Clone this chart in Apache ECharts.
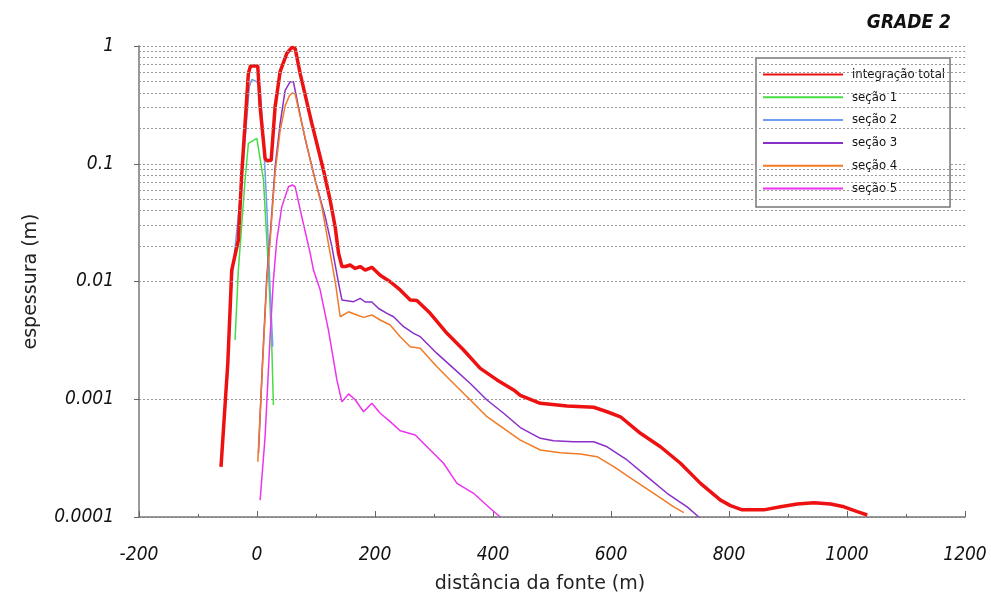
<!DOCTYPE html>
<html lang="pt">
<head>
    <meta charset="UTF-8"/>
    <title>grade 2</title>
    <script src="https://cdn.jsdelivr.net/npm/echarts@6.0.0/dist/echarts.min.js"></script>
    <style>
        html, body { margin: 0; padding: 0; background: #fff; }
    </style>
</head>
<body>
<div id="main" style="width: 991px;height:604px;"></div>

<script type="text/javascript">
    // distância (m) e espessura (m) de cada curva
    var totalX = [-61, -49.5, -42.8, -31.6, -25.8, -20.2, -14.6, -11, 1.3, 5.3, 13.7, 17, 24, 30.7, 39.2, 50.5, 59, 64.6, 73.1, 92.9, 112.6,
        124, 132.5, 138.2, 143.9, 150, 157.9, 166.4, 174.9, 183.4, 194.7, 208.8, 225.8, 242.7, 259.7, 271, 293.6, 322, 350.1, 378.4,
        406.8, 435, 446.3, 480.2, 525.5, 570.7, 593.3, 616, 649.9, 683.8, 717.7, 751.7, 785.6, 802.5, 822.4, 859, 887.4, 915.6,
        943.9, 972.2, 994.8, 1017.4, 1034.4];
    var totalY = [0.000267, 0.00202, 0.0125, 0.0225, 0.083, 0.22, 0.586, 0.676, 0.676, 0.305, 0.111, 0.106, 0.107, 0.305, 0.605, 0.867, 0.975, 0.955, 0.586, 0.22, 0.0885,
        0.049, 0.029, 0.0174, 0.0134, 0.0134, 0.0138, 0.0129, 0.0134, 0.0125, 0.0132, 0.0113, 0.00995, 0.00848, 0.00697, 0.0069, 0.00537, 0.00363, 0.00262, 0.00183,
        0.00146, 0.0012, 0.00108, 0.000924, 0.000877, 0.000855, 0.000783, 0.00071, 0.000514, 0.000395, 0.000286, 0.000193, 0.000139, 0.000125, 0.000115, 0.000115, 0.000122, 0.000129,
        0.000132, 0.000129, 0.000122, 0.000111, 0.000104];

    var sec1X = [-37.2, -31.6, -20.2, -14.6, -0.3, 2.5, 11, 16.6, 19.5, 25.1, 27.8];
    var sec1Y = [0.00318, 0.0125, 0.0728, 0.149, 0.164, 0.16, 0.0728, 0.0225, 0.0125, 0.00279, 0.000894];

    var sec2X = [-50, -43, -26, -13, -8.8, -0.3, 5.3, 11, 16.6, 22.2, 26.8];
    var sec2Y = [0.0015, 0.01, 0.07, 0.45, 0.52, 0.497, 0.45, 0.159, 0.043, 0.0085, 0.0028];

    var sec3X = [2.5, 9.2, 16.6, 22.2, 30.7, 39.2, 47.7, 56.1, 61.7, 70.2, 82.1, 98.6, 115.6, 126.9, 138.2, 143.9, 163.7, 174.9, 183.4, 194.7,
        206.1, 220.2, 231.5, 248.5, 265.4, 276.7, 305, 333.2, 361.5, 389.8, 418, 446.3, 480.2, 502.8, 536.7, 570.7, 593.3, 627.2, 661.1,
        695, 729, 748.8];
    var sec3Y = [0.000348, 0.002, 0.011, 0.024, 0.094, 0.22, 0.42, 0.497, 0.497, 0.305, 0.159, 0.073, 0.0355, 0.0198, 0.0097, 0.00697, 0.00674, 0.0072, 0.0067, 0.0067,
        0.0059, 0.00537, 0.00502, 0.00413, 0.00363, 0.0034, 0.00245, 0.00183, 0.00136, 0.000986, 0.00076, 0.000575, 0.000466, 0.000445, 0.000436, 0.000436, 0.000395, 0.000305, 0.00022,
        0.000159, 0.000122, 0.0001];

    var sec4X = [1.4, 9, 16.6, 22.2, 30.7, 39.2, 47.7, 55, 60.1, 64.6, 75.9, 92.9, 109.9, 128, 133, 141, 155.1, 169.3, 180.6, 194.7,
        208.8, 225.8, 242.7, 259.7, 276.7, 305, 333.2, 361.5, 389.8, 418, 446.3, 480.2, 514.1, 548.1, 576.4, 604.6, 638.5, 672.4,
        706.4, 723.3];
    var sec4Y = [0.000295, 0.0018, 0.01, 0.022, 0.085, 0.19, 0.31, 0.38, 0.4, 0.39, 0.22, 0.094, 0.043, 0.0134, 0.0097, 0.00502, 0.00553, 0.00519, 0.00496, 0.0052,
        0.00471, 0.00427, 0.0034, 0.00279, 0.00271, 0.00189, 0.00136, 0.000986, 0.000711, 0.000566, 0.00045, 0.000371, 0.000352, 0.000343, 0.000325, 0.000268, 0.000206, 0.000159,
        0.000122, 0.000109];

    var sec5X = [5.3, 13.7, 22.2, 27.8, 33.6, 42, 53.3, 60.1, 64.6, 75.9, 90.1, 95.7, 107, 121.1, 124, 135.4, 143.9, 155.1, 166.4, 180.6,
        194.7, 208.8, 225.8, 242.7, 268.2, 293.6, 316.2, 338.9, 367.1, 395.4, 412.4];
    var sec5Y = [0.000139, 0.00048, 0.0034, 0.0103, 0.0225, 0.043, 0.0638, 0.066, 0.064, 0.0355, 0.0174, 0.0125, 0.0085, 0.00387, 0.00318, 0.00146, 0.00095, 0.00111, 0.00099, 0.000783,
        0.000924, 0.00076, 0.000646, 0.00054, 0.000497, 0.000371, 0.000286, 0.000193, 0.000159, 0.000118, 0.0001];

    var seriesNames = ['integração total', 'seção 1', 'seção 2', 'seção 3', 'seção 4', 'seção 5'];

    // rótulos do eixo y (décadas) e linhas de grade secundárias
    var yTickValues = [1, 0.1, 0.01, 0.001, 0.0001];
    var yTickLabels = ['1', '0.1', '0.01', '0.001', '0.0001'];
    var decades = [0.0001, 0.001, 0.01, 0.1];
    var mantissas = [2, 3, 4, 5, 6, 7, 8, 9];

    function pairs(xs, ys) {
        var out = [];
        for (var i = 0; i < xs.length; i++) out.push([xs[i], ys[i]]);
        return out;
    }

    var minorGrid = [];
    decades.forEach(function (d) {
        mantissas.forEach(function (m) {
            minorGrid.push({yAxis: +(m * d).toPrecision(3)});
        });
    });

    var labelFont = "'DejaVu Sans Condensed', 'Liberation Sans Narrow', 'DejaVu Sans', sans-serif";
    var nameFont = "'DejaVu Sans', 'Noto Sans', sans-serif";

    var myChart = echarts.init(document.getElementById('main'));

    function line(name, data, color, width, z) {
        return {
            name: name,
            type: 'line',
            data: data,
            symbol: 'none',
            showSymbol: false,
            z: z,
            lineStyle: {color: color, width: width},
            itemStyle: {color: color}
        };
    }

    var option = {
        backgroundColor: '#fff',
        animation: false,
        title: {
            text: 'GRADE 2',
            right: 35,
            top: 9,
            textStyle: {
                fontFamily: labelFont,
                fontStyle: 'italic',
                fontWeight: 'bold',
                fontSize: 19,
                color: '#111'
            }
        },
        grid: {left: 139, right: 26, top: 46, bottom: 87},
        legend: {
            data: seriesNames,
            orient: 'vertical',
            left: 756,
            top: 58,
            itemWidth: 80,
            itemHeight: 14,
            itemGap: 9.8,
            padding: [10, 5, 12, 6],
            backgroundColor: '#fff',
            borderColor: '#777',
            borderWidth: 1.5,
            itemStyle: {opacity: 0},
            textStyle: {
                fontFamily: labelFont,
                fontSize: 13,
                color: '#111',
                width: 95,
                padding: [0, 0, 0, 4]
            }
        },
        xAxis: {
            type: 'value',
            min: -200,
            max: 1200,
            interval: 200,
            name: 'distância da fonte (m)',
            nameLocation: 'middle',
            nameGap: 58,
            nameTextStyle: {fontFamily: nameFont, fontSize: 19, color: '#222', padding: [0, 24, 0, 0]},
            axisLine: {onZero: false, lineStyle: {color: '#777', width: 1.5}},
            axisTick: {inside: true, length: 6, lineStyle: {color: '#666'}},
            minorTick: {show: true, splitNumber: 2, length: 3, lineStyle: {color: '#666'}},
            axisLabel: {
                margin: 29,
                fontFamily: labelFont,
                fontStyle: 'italic',
                fontSize: 19,
                color: '#111',
                formatter: function (v) { return String(v); }
            },
            splitLine: {show: false}
        },
        yAxis: {
            type: 'log',
            logBase: 10,
            min: 0.0001,
            max: 1,
            name: 'espessura (m)',
            nameLocation: 'middle',
            nameGap: 98,
            nameTextStyle: {fontFamily: nameFont, fontSize: 19, color: '#222'},
            axisLine: {show: true, onZero: false, lineStyle: {color: '#777', width: 1.5}},
            axisTick: {show: true, length: 5, lineStyle: {color: '#666'}},
            axisLabel: {
                margin: 25,
                fontFamily: labelFont,
                fontStyle: 'italic',
                fontSize: 19,
                color: '#111',
                formatter: function (v) {
                    for (var i = 0; i < yTickValues.length; i++) {
                        if (Math.abs(Math.log10(v) - Math.log10(yTickValues[i])) < 1e-6) return yTickLabels[i];
                    }
                    return '';
                }
            },
            splitLine: {show: true, lineStyle: {color: '#999', type: [2, 2], width: 1}}
        },
        series: [
            line(seriesNames[0], pairs(totalX, totalY), '#ee1111', 3.5, 4),
            line(seriesNames[1], pairs(sec1X, sec1Y), '#44dd44', 1.5, 3),
            line(seriesNames[2], pairs(sec2X, sec2Y), '#6f9ff0', 1.5, 3),
            line(seriesNames[3], pairs(sec3X, sec3Y), '#8a2fc8', 1.5, 3),
            line(seriesNames[4], pairs(sec4X, sec4Y), '#f07a26', 1.5, 3),
            line(seriesNames[5], pairs(sec5X, sec5Y), '#ee33ee', 1.5, 3),
            {
                name: 'grade',
                type: 'line',
                data: [],
                z: 1,
                silent: true,
                markLine: {
                    silent: true,
                    symbol: 'none',
                    animation: false,
                    label: {show: false},
                    lineStyle: {color: '#999', type: [2, 2], width: 1},
                    data: minorGrid
                }
            }
        ]
    };
    myChart.setOption(option);
</script>
</body>
</html>
